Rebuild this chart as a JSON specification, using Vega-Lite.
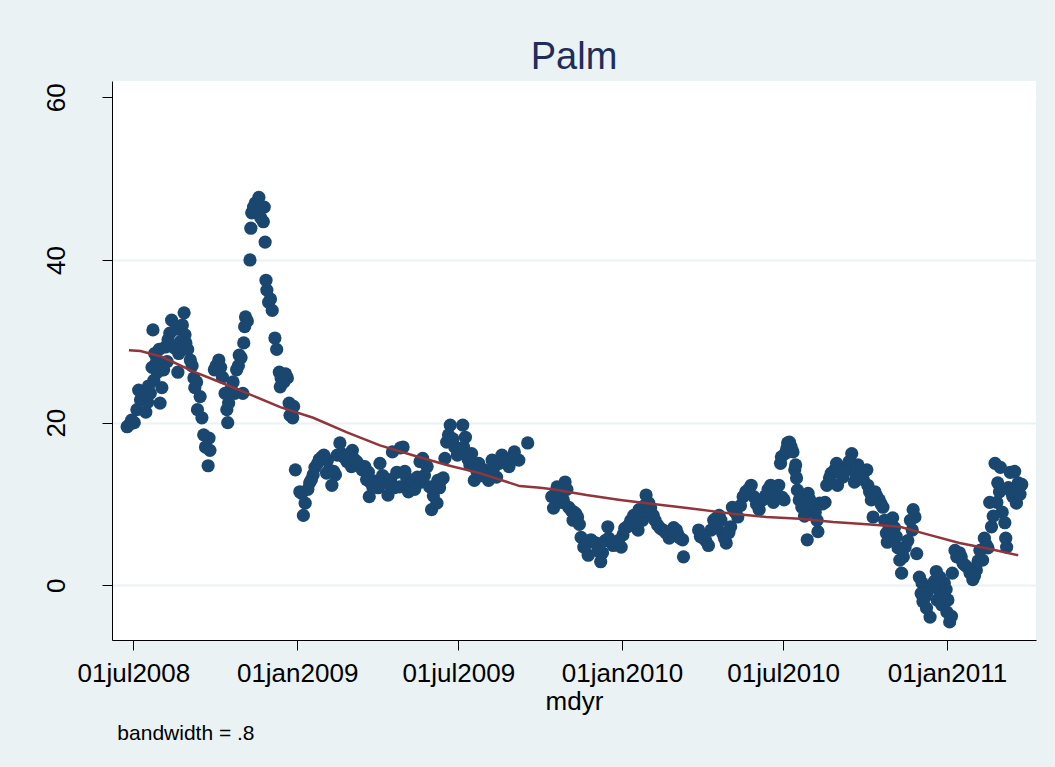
{
"$schema": "https://vega.github.io/schema/vega-lite/v6.json",
"width": 924, "height": 559,
"autosize": "none",
"padding": {"left": 112, "top": 81, "right": 19, "bottom": 127},
"background": "#EAF2F3",
"config": {"view": {"fill": "white", "stroke": null}, "font": "Liberation Sans"},
"title": {"text": "Palm", "fontSize": 38, "font": "Liberation Sans", "fontWeight": "normal", "color": "#1E2D5A", "anchor": "middle", "offset": 4},
"datasets": {
"points": [
{"mdyr":17707,"value":19.5},{"mdyr":17715,"value":20.0},{"mdyr":17718,"value":21.6},{"mdyr":17720,"value":24.0},{"mdyr":17727,"value":23.2},{"mdyr":17728,"value":21.3},{"mdyr":17733,"value":23.6},{"mdyr":17737,"value":25.2},{"mdyr":17744,"value":22.4},{"mdyr":17746,"value":24.3},{"mdyr":17741,"value":26.2},{"mdyr":17738,"value":28.5},{"mdyr":17736,"value":31.4},{"mdyr":17750,"value":29.3},{"mdyr":17755,"value":31.0},{"mdyr":17757,"value":32.6},{"mdyr":17765,"value":28.5},{"mdyr":17771,"value":33.5},{"mdyr":17772,"value":30.8},{"mdyr":17773,"value":29.8},{"mdyr":17778,"value":27.7},{"mdyr":17764,"value":26.2},{"mdyr":17782,"value":25.5},{"mdyr":17783,"value":24.3},{"mdyr":17789,"value":23.2},{"mdyr":17786,"value":21.6},{"mdyr":17791,"value":20.6},{"mdyr":17799,"value":18.1},{"mdyr":17800,"value":16.6},{"mdyr":17798,"value":14.7},{"mdyr":17805,"value":26.5},{"mdyr":17810,"value":27.7},{"mdyr":17814,"value":25.6},{"mdyr":17817,"value":23.6},{"mdyr":17819,"value":21.6},{"mdyr":17820,"value":20.0},{"mdyr":17821,"value":22.4},{"mdyr":17828,"value":23.6},{"mdyr":17830,"value":26.5},{"mdyr":17833,"value":28.3},{"mdyr":17838,"value":29.8},{"mdyr":17839,"value":31.8},{"mdyr":17840,"value":33.0},{"mdyr":17837,"value":23.6},{"mdyr":17845,"value":40.0},{"mdyr":17846,"value":43.9},{"mdyr":17847,"value":45.8},{"mdyr":17851,"value":47.0},{"mdyr":17855,"value":47.7},{"mdyr":17861,"value":46.5},{"mdyr":17860,"value":44.7},{"mdyr":17862,"value":42.2},{"mdyr":17863,"value":37.5},{"mdyr":17864,"value":36.3},{"mdyr":17866,"value":34.8},{"mdyr":17870,"value":33.8},{"mdyr":17873,"value":30.4},{"mdyr":17878,"value":26.2},{"mdyr":17879,"value":24.4},{"mdyr":17887,"value":25.5},{"mdyr":17889,"value":22.4},{"mdyr":17890,"value":20.9},{"mdyr":17892,"value":21.2},{"mdyr":17893,"value":20.6},{"mdyr":17896,"value":14.2},{"mdyr":17901,"value":11.5},{"mdyr":17903,"value":11.3},{"mdyr":17907,"value":10.1},{"mdyr":17905,"value":8.6},{"mdyr":17912,"value":12.6},{"mdyr":17916,"value":13.6},{"mdyr":17921,"value":15.0},{"mdyr":17926,"value":15.8},{"mdyr":17932,"value":15.4},{"mdyr":17931,"value":13.8},{"mdyr":17937,"value":12.3},{"mdyr":17941,"value":13.6},{"mdyr":17946,"value":17.5},{"mdyr":17948,"value":16.2},{"mdyr":17954,"value":15.2},{"mdyr":17960,"value":16.6},{"mdyr":17959,"value":14.6},{"mdyr":17965,"value":15.2},{"mdyr":17974,"value":14.6},{"mdyr":17978,"value":13.9},{"mdyr":17980,"value":12.7},{"mdyr":17979,"value":10.9},{"mdyr":17983,"value":12.1},{"mdyr":17991,"value":15.0},{"mdyr":17989,"value":12.0},{"mdyr":17997,"value":12.6},{"mdyr":18000,"value":11.1},{"mdyr":18005,"value":16.4},{"mdyr":18010,"value":13.9},{"mdyr":18014,"value":16.9},{"mdyr":18017,"value":17.0},{"mdyr":18013,"value":12.1},{"mdyr":18021,"value":13.2},{"mdyr":18023,"value":11.5},{"mdyr":18028,"value":12.6},{"mdyr":18033,"value":13.3},{"mdyr":18036,"value":15.2},{"mdyr":18038,"value":12.7},{"mdyr":18039,"value":15.6},{"mdyr":18044,"value":14.6},{"mdyr":18047,"value":12.1},{"mdyr":18049,"value":9.3},{"mdyr":18055,"value":10.1},{"mdyr":18056,"value":12.9},{"mdyr":18058,"value":12.0},{"mdyr":18062,"value":13.2},{"mdyr":18064,"value":15.6},{"mdyr":18066,"value":17.6},{"mdyr":18070,"value":19.7},{"mdyr":18075,"value":17.0},{"mdyr":18078,"value":16.0},{"mdyr":18084,"value":19.7},{"mdyr":18087,"value":18.2},{"mdyr":18085,"value":17.0},{"mdyr":18094,"value":16.2},{"mdyr":18092,"value":14.8},{"mdyr":18097,"value":12.9},{"mdyr":18102,"value":15.0},{"mdyr":18108,"value":14.2},{"mdyr":18113,"value":12.9},{"mdyr":18117,"value":15.4},{"mdyr":18122,"value":13.3},{"mdyr":18128,"value":16.0},{"mdyr":18136,"value":14.6},{"mdyr":18142,"value":16.4},{"mdyr":18147,"value":15.4},{"mdyr":18157,"value":17.5},
{"mdyr":18184,"value":10.9},{"mdyr":18190,"value":12.1},{"mdyr":18199,"value":12.7},{"mdyr":18186,"value":9.5},{"mdyr":18197,"value":10.5},{"mdyr":18203,"value":9.6},{"mdyr":18209,"value":9.0},{"mdyr":18208,"value":8.0},{"mdyr":18213,"value":8.4},{"mdyr":18217,"value":5.9},{"mdyr":18220,"value":4.7},{"mdyr":18225,"value":3.7},{"mdyr":18228,"value":5.6},{"mdyr":18234,"value":5.2},{"mdyr":18239,"value":2.9},{"mdyr":18241,"value":4.0},{"mdyr":18247,"value":7.2},{"mdyr":18248,"value":5.8},{"mdyr":18253,"value":4.9},{"mdyr":18262,"value":4.7},{"mdyr":18264,"value":6.2},{"mdyr":18269,"value":7.2},{"mdyr":18273,"value":8.0},{"mdyr":18276,"value":8.6},{"mdyr":18281,"value":6.8},{"mdyr":18282,"value":9.3},{"mdyr":18286,"value":8.0},{"mdyr":18290,"value":11.1},{"mdyr":18293,"value":10.1},{"mdyr":18298,"value":8.6},{"mdyr":18303,"value":7.4},{"mdyr":18309,"value":6.8},{"mdyr":18316,"value":5.8},{"mdyr":18321,"value":7.1},{"mdyr":18326,"value":6.2},{"mdyr":18331,"value":5.6},{"mdyr":18332,"value":3.5},{"mdyr":18349,"value":6.8},{"mdyr":18354,"value":5.8},{"mdyr":18360,"value":4.9},{"mdyr":18363,"value":6.8},{"mdyr":18366,"value":8.0},{"mdyr":18372,"value":8.6},{"mdyr":18376,"value":6.4},{"mdyr":18380,"value":5.2},{"mdyr":18385,"value":7.2},{"mdyr":18387,"value":9.6},{"mdyr":18393,"value":8.4},{"mdyr":18399,"value":10.9},{"mdyr":18408,"value":12.3},{"mdyr":18411,"value":10.9},{"mdyr":18417,"value":9.3},{"mdyr":18421,"value":10.5},{"mdyr":18430,"value":12.3},{"mdyr":18433,"value":10.2},{"mdyr":18439,"value":12.3},{"mdyr":18445,"value":10.5},{"mdyr":18441,"value":15.0},{"mdyr":18446,"value":16.2},{"mdyr":18449,"value":17.5},{"mdyr":18455,"value":16.4},{"mdyr":18457,"value":14.2},{"mdyr":18442,"value":15.8},{"mdyr":18451,"value":17.6},{"mdyr":18458,"value":14.8},{"mdyr":18459,"value":13.2},{"mdyr":18443,"value":10.8},{"mdyr":18460,"value":11.7},{"mdyr":18465,"value":9.6},{"mdyr":18471,"value":5.6},{"mdyr":18472,"value":11.3},{"mdyr":18477,"value":9.6},{"mdyr":18482,"value":8.0},{"mdyr":18483,"value":6.6},{"mdyr":18485,"value":10.1},{"mdyr":18491,"value":10.2},{"mdyr":18493,"value":12.3},{"mdyr":18496,"value":13.2},{"mdyr":18504,"value":15.0},{"mdyr":18505,"value":12.3},{"mdyr":18511,"value":13.3},{"mdyr":18516,"value":14.4},{"mdyr":18521,"value":16.2},{"mdyr":18524,"value":12.7},{"mdyr":18528,"value":14.8},{"mdyr":18538,"value":14.2},{"mdyr":18539,"value":12.3},{"mdyr":18543,"value":10.5},{"mdyr":18547,"value":11.5},{"mdyr":18552,"value":10.5},{"mdyr":18545,"value":8.4},{"mdyr":18556,"value":9.6},{"mdyr":18560,"value":6.4},{"mdyr":18561,"value":5.3},{"mdyr":18567,"value":8.3},{"mdyr":18569,"value":7.1},{"mdyr":18573,"value":4.6},{"mdyr":18575,"value":3.1},{"mdyr":18577,"value":1.5},{"mdyr":18581,"value":4.7},{"mdyr":18590,"value":9.3},{"mdyr":18592,"value":8.4},{"mdyr":18589,"value":6.8},{"mdyr":18594,"value":3.9},{"mdyr":18597,"value":1.0},{"mdyr":18600,"value":0.3},{"mdyr":18599,"value":-1.0},{"mdyr":18601,"value":-2.0},{"mdyr":18609,"value":-3.9},{"mdyr":18606,"value":-0.8},{"mdyr":18612,"value":-0.2},{"mdyr":18616,"value":1.7},{"mdyr":18617,"value":-1.8},{"mdyr":18622,"value":-2.4},{"mdyr":18625,"value":0.3},{"mdyr":18628,"value":-3.3},{"mdyr":18631,"value":-4.5},{"mdyr":18629,"value":-1.8},{"mdyr":18634,"value":1.5},{"mdyr":18637,"value":4.3},{"mdyr":18642,"value":4.0},{"mdyr":18646,"value":2.7},{"mdyr":18651,"value":2.2},{"mdyr":18657,"value":0.7},{"mdyr":18661,"value":1.9},{"mdyr":18665,"value":4.3},{"mdyr":18668,"value":3.1},{"mdyr":18670,"value":5.8},{"mdyr":18674,"value":4.6},{"mdyr":18678,"value":7.2},{"mdyr":18676,"value":10.2},{"mdyr":18682,"value":15.0},{"mdyr":18684,"value":10.2},{"mdyr":18685,"value":12.6},{"mdyr":18690,"value":9.0},{"mdyr":18693,"value":7.7},{"mdyr":18694,"value":5.8},{"mdyr":18695,"value":4.7},{"mdyr":18699,"value":13.9},{"mdyr":18702,"value":10.9},{"mdyr":18706,"value":10.1},{"mdyr":18708,"value":12.6},{"mdyr":18712,"value":12.4},{"mdyr":18704,"value":14.0},
{"mdyr":17710,"value":19.8},{"mdyr":17712,"value":20.3},{"mdyr":17722,"value":22.8},{"mdyr":17724,"value":23.8},{"mdyr":17730,"value":22.5},{"mdyr":17731,"value":24.5},{"mdyr":17735,"value":26.8},{"mdyr":17740,"value":27.5},{"mdyr":17743,"value":29.0},{"mdyr":17748,"value":26.5},{"mdyr":17752,"value":27.5},{"mdyr":17753,"value":30.2},{"mdyr":17760,"value":29.2},{"mdyr":17762,"value":31.5},{"mdyr":17767,"value":30.0},{"mdyr":17769,"value":32.0},{"mdyr":17775,"value":29.0},{"mdyr":17780,"value":27.0},{"mdyr":17785,"value":25.0},{"mdyr":17793,"value":18.5},{"mdyr":17795,"value":17.0},{"mdyr":17807,"value":27.0},{"mdyr":17812,"value":26.8},{"mdyr":17823,"value":24.0},{"mdyr":17826,"value":25.0},{"mdyr":17832,"value":27.0},{"mdyr":17835,"value":28.0},{"mdyr":17842,"value":32.5},{"mdyr":17849,"value":46.5},{"mdyr":17853,"value":46.0},{"mdyr":17857,"value":45.2},{"mdyr":17868,"value":35.2},{"mdyr":17875,"value":29.0},{"mdyr":17880,"value":25.5},{"mdyr":17883,"value":25.0},{"mdyr":17885,"value":26.0},{"mdyr":17894,"value":22.0},
{"mdyr":17910,"value":11.8},{"mdyr":17914,"value":13.0},{"mdyr":17918,"value":14.5},{"mdyr":17923,"value":15.5},{"mdyr":17928,"value":16.0},{"mdyr":17934,"value":14.2},{"mdyr":17939,"value":14.0},{"mdyr":17943,"value":16.0},{"mdyr":17950,"value":15.8},{"mdyr":17956,"value":16.0},{"mdyr":17962,"value":15.5},{"mdyr":17968,"value":14.8},{"mdyr":17971,"value":14.2},{"mdyr":17976,"value":13.0},{"mdyr":17985,"value":12.8},{"mdyr":17994,"value":13.5},{"mdyr":18003,"value":13.0},{"mdyr":18007,"value":12.0},{"mdyr":18019,"value":14.0},{"mdyr":18025,"value":12.3},{"mdyr":18030,"value":11.8},{"mdyr":18041,"value":13.5},{"mdyr":18051,"value":11.0},{"mdyr":18053,"value":12.0},{"mdyr":18060,"value":13.0},{"mdyr":18068,"value":18.5},{"mdyr":18073,"value":18.0},{"mdyr":18081,"value":16.5},{"mdyr":18090,"value":15.5},{"mdyr":18100,"value":14.0},{"mdyr":18105,"value":13.5},{"mdyr":18111,"value":14.0},{"mdyr":18119,"value":14.5},{"mdyr":18125,"value":15.0},{"mdyr":18131,"value":15.5},{"mdyr":18139,"value":15.5},
{"mdyr":18188,"value":11.2},{"mdyr":18193,"value":11.5},{"mdyr":18195,"value":10.2},{"mdyr":18201,"value":11.8},{"mdyr":18206,"value":9.2},{"mdyr":18211,"value":8.8},{"mdyr":18215,"value":7.5},{"mdyr":18222,"value":5.0},{"mdyr":18231,"value":5.3},{"mdyr":18236,"value":4.2},{"mdyr":18244,"value":5.5},{"mdyr":18251,"value":5.3},{"mdyr":18256,"value":5.0},{"mdyr":18259,"value":5.5},{"mdyr":18266,"value":7.0},{"mdyr":18271,"value":7.5},{"mdyr":18279,"value":8.2},{"mdyr":18284,"value":9.0},{"mdyr":18288,"value":9.8},{"mdyr":18295,"value":9.5},{"mdyr":18300,"value":8.0},{"mdyr":18306,"value":7.0},{"mdyr":18312,"value":6.5},{"mdyr":18319,"value":6.5},{"mdyr":18324,"value":6.8},{"mdyr":18328,"value":5.8},
{"mdyr":18351,"value":6.0},{"mdyr":18357,"value":5.5},{"mdyr":18368,"value":8.2},{"mdyr":18370,"value":7.5},{"mdyr":18374,"value":8.0},{"mdyr":18378,"value":5.8},{"mdyr":18383,"value":6.5},{"mdyr":18390,"value":9.0},{"mdyr":18396,"value":9.8},{"mdyr":18402,"value":11.5},{"mdyr":18405,"value":11.8},{"mdyr":18414,"value":10.0},{"mdyr":18424,"value":11.0},{"mdyr":18427,"value":11.8},{"mdyr":18436,"value":11.5},{"mdyr":18448,"value":16.8},{"mdyr":18453,"value":17.0},{"mdyr":18462,"value":10.5},{"mdyr":18468,"value":8.5},{"mdyr":18474,"value":10.5},{"mdyr":18480,"value":9.0},{"mdyr":18488,"value":10.0},{"mdyr":18498,"value":13.8},{"mdyr":18502,"value":14.2},{"mdyr":18508,"value":13.8},{"mdyr":18513,"value":14.0},{"mdyr":18518,"value":15.2},{"mdyr":18526,"value":13.5},{"mdyr":18531,"value":14.0},{"mdyr":18534,"value":13.0},{"mdyr":18541,"value":11.5},{"mdyr":18549,"value":11.0},{"mdyr":18554,"value":10.0},{"mdyr":18558,"value":8.0},{"mdyr":18563,"value":7.0},{"mdyr":18571,"value":6.0},{"mdyr":18579,"value":3.5},{"mdyr":18584,"value":5.5},{"mdyr":18587,"value":8.0},
{"mdyr":18603,"value":-1.5},{"mdyr":18605,"value":-2.8},{"mdyr":18614,"value":0.5},{"mdyr":18619,"value":-0.5},{"mdyr":18620,"value":1.0},{"mdyr":18624,"value":-1.0},{"mdyr":18627,"value":-0.5},{"mdyr":18633,"value":-3.8},{"mdyr":18639,"value":3.5},{"mdyr":18644,"value":3.5},{"mdyr":18648,"value":2.5},{"mdyr":18654,"value":1.5},{"mdyr":18659,"value":1.2},{"mdyr":18663,"value":3.0},{"mdyr":18672,"value":5.0},{"mdyr":18680,"value":8.5},{"mdyr":18687,"value":11.5},{"mdyr":18688,"value":14.5},{"mdyr":18697,"value":12.0},{"mdyr":18700,"value":11.5},{"mdyr":18710,"value":11.2}
],
"lowess": [
{"mdyr":17709,"value":28.9},{"mdyr":17722,"value":28.8},{"mdyr":17746,"value":28.1},{"mdyr":17781,"value":26.3},{"mdyr":17811,"value":25.0},{"mdyr":17842,"value":23.6},{"mdyr":17879,"value":21.9},{"mdyr":17916,"value":20.6},{"mdyr":17954,"value":18.8},{"mdyr":17991,"value":17.2},{"mdyr":18028,"value":16.0},{"mdyr":18066,"value":14.8},{"mdyr":18103,"value":13.8},{"mdyr":18134,"value":12.7},{"mdyr":18148,"value":12.2},{"mdyr":18171,"value":12.0},{"mdyr":18185,"value":11.8},{"mdyr":18223,"value":11.1},{"mdyr":18261,"value":10.5},{"mdyr":18298,"value":10.0},{"mdyr":18336,"value":9.5},{"mdyr":18373,"value":9.0},{"mdyr":18387,"value":8.8},{"mdyr":18425,"value":8.4},{"mdyr":18463,"value":8.2},{"mdyr":18500,"value":7.8},{"mdyr":18538,"value":7.5},{"mdyr":18575,"value":7.2},{"mdyr":18605,"value":6.3},{"mdyr":18642,"value":5.2},{"mdyr":18679,"value":4.4},{"mdyr":18708,"value":3.7}
],
"note": [{"mdyr": 17696, "value": -19, "label": "bandwidth = .8"}]
},
"encoding": {
"x": {"field": "mdyr", "type": "quantitative",
 "scale": {"domain": [17690, 18728], "nice": false, "zero": false},
 "axis": {"values": [17714, 17898, 18079, 18263, 18444, 18628],
  "labelExpr": "utcFormat((datum.value-3653)*86400000,'%d') + lower(utcFormat((datum.value-3653)*86400000,'%b')) + utcFormat((datum.value-3653)*86400000,'%Y')",
  "title": "mdyr", "titleFontSize": 26, "titleFontWeight": "normal", "titleColor": "black", "titleFont": "Liberation Sans", "titlePadding": 2,
  "labelFontSize": 26, "labelColor": "black", "labelFont": "Liberation Sans", "labelPadding": 10, "labelFlush": false, "labelOverlap": false,
  "tickSize": 10, "tickColor": "black", "domainColor": "black", "grid": false}},
"y": {"field": "value", "type": "quantitative",
 "scale": {"domain": [-6.72, 62], "nice": false, "zero": false},
 "axis": {"values": [0, 20, 40, 60], "title": null,
  "labelAngle": 270, "labelAlign": "center", "labelBaseline": "bottom", "labelFontSize": 26, "labelColor": "black", "labelFont": "Liberation Sans", "labelPadding": 33,
  "tickSize": 10, "tickColor": "black", "domainColor": "black", "grid": true,
  "gridColor": {"condition": {"test": "datum.value == 60", "value": "white"}, "value": "#EAF2F3"}, "gridWidth": 2}}
},
"layer": [
{"data": {"name": "points"}, "mark": {"type": "point", "filled": true, "shape": "circle", "size": 175, "color": "#1A476F", "opacity": 1}},
{"data": {"name": "lowess"}, "mark": {"type": "line", "color": "#90353B", "strokeWidth": 2.5}},
{"data": {"name": "note"}, "mark": {"type": "text", "align": "left", "baseline": "alphabetic", "fontSize": 21, "font": "Liberation Sans", "color": "black"},
 "encoding": {"text": {"field": "label"}}}
]
}
